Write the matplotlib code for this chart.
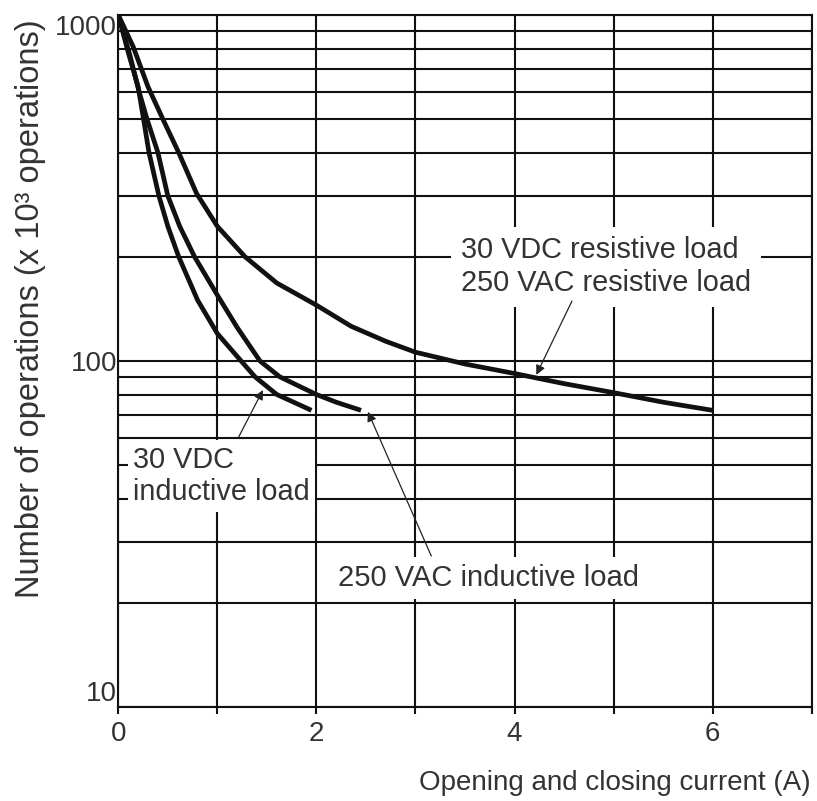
import numpy as np
import matplotlib
matplotlib.use("Agg")
import matplotlib.pyplot as plt

plt.rcParams['font.family'] = ['Liberation Sans', 'DejaVu Sans']

# Datos (corriente A, operaciones x10^3)
res_x = [0, 0.15, 0.30, 0.45, 0.61, 0.79, 1.0, 1.28, 1.6, 2.0, 2.35, 2.7, 3.0, 3.5, 4.0, 4.5, 5.0, 5.5, 6.0]
res_y = [1000, 810, 620, 500, 400, 305, 245, 200, 168, 145, 126, 114, 106, 98, 92, 86, 81, 76, 72]

vac_ind_x = [0, 0.12, 0.21, 0.29, 0.40, 0.50, 0.62, 0.77, 1.0, 1.2, 1.43, 1.63, 2.0, 2.2, 2.45]
vac_ind_y = [1000, 760, 600, 500, 400, 300, 245, 200, 155, 125, 100, 90, 80, 76, 72]

vdc_ind_x = [0, 0.1, 0.2, 0.25, 0.31, 0.41, 0.5, 0.61, 0.8, 1.0, 1.24, 1.38, 1.6, 1.95]
vdc_ind_y = [1000, 780, 620, 510, 400, 300, 245, 200, 150, 120, 100, 90, 80, 72]

x_ticks = [0, 1, 2, 3, 4, 5, 6, 7]
x_labels = ['0', '', '2', '', '4', '', '6', '']

fig = plt.figure(figsize=(8.17, 8.01), dpi=100)
ax = fig.add_axes([0.1448, 0.1174, 0.8487, 0.8639])

ax.set_yscale('log')
ax.set_xlim(0, 7)
ax.set_ylim(10, 1000)

# Rejilla
ax.set_xticks(x_ticks)
ax.set_xticklabels(x_labels)
ax.set_yticks([10, 100, 1000])
ax.set_yticklabels(['10', '100', '1000'])
ax.set_yticks([v * d for d in (10, 100) for v in range(2, 10)], minor=True)
ax.yaxis.set_minor_formatter(plt.NullFormatter())
ax.grid(True, which='both', color='#111111', lw=1.5, zorder=1)
ax.set_axisbelow(True)
for s in ax.spines.values():
    s.set_color('#111111')
    s.set_linewidth(1.5)
ax.tick_params(axis='x', length=5, width=1.5, pad=5, labelsize=20, colors='#111111', labelcolor='#333333')
ax.tick_params(axis='y', which='both', length=0, pad=1, labelsize=20, labelcolor='#333333')
yl = ax.get_yticklabels()
yl[0].set_va('bottom')
yl[2].set_va('top')

# Curvas
kw = dict(color='#111111', lw=3.4, solid_capstyle='butt', solid_joinstyle='round', zorder=4)
ax.plot(res_x, res_y, **kw)
ax.plot(vac_ind_x, vac_ind_y, **kw)
ax.plot(vdc_ind_x, vdc_ind_y, **kw)

# Etiquetas con fondo blanco
ax.text(3.46, 187, '30 VDC resistive load\n250 VAC resistive load', fontsize=20.8,
        ha='left', va='center', color='#333333', zorder=3, linespacing=1.22,
        bbox=dict(facecolor='white', edgecolor='none', pad=7))
ax.text(0.15, 46.5, '30 VDC\ninductive load', fontsize=20.8,
        ha='left', va='center', color='#333333', zorder=3, linespacing=1.22,
        bbox=dict(facecolor='white', edgecolor='none', pad=4))
ax.text(2.22, 23.6, '250 VAC inductive load', fontsize=21,
        ha='left', va='center', color='#333333', zorder=3,
        bbox=dict(facecolor='white', edgecolor='none', pad=5))

ap = dict(arrowstyle='-|>', color='#222222', lw=0.9, mutation_scale=14, shrinkA=0, shrinkB=0)
ax.annotate('', xy=(4.22, 91.2), xytext=(4.58, 149), arrowprops=ap, zorder=5)
ax.annotate('', xy=(1.46, 82.4), xytext=(1.21, 59.9), arrowprops=ap, zorder=5)
ax.annotate('', xy=(2.52, 71.3), xytext=(3.16, 27.3), arrowprops=ap, zorder=5)

ax.set_ylabel('Number of operations (x 10³ operations)', fontsize=23.5, color='#333333', va='center')
ax.yaxis.set_label_coords(-0.126, 0.575)
ax.set_xlabel('Opening and closing current (A)', fontsize=20, color='#333333', ha='right', va='center')
ax.xaxis.set_label_coords(0.998, -0.11)

fig.savefig('out.png', dpi=100, facecolor='white')
